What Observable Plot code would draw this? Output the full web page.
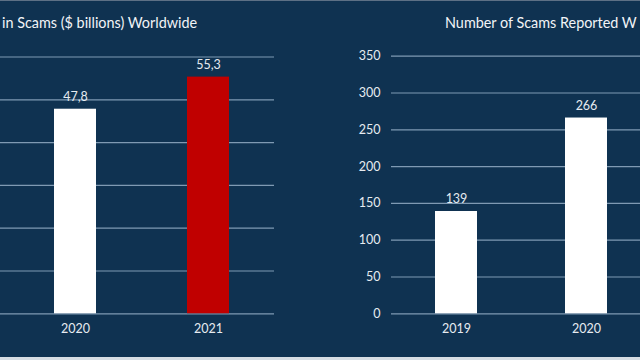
<!DOCTYPE html>
<html>
<head>
<meta charset="utf-8">
<script src="https://cdn.jsdelivr.net/npm/d3@7"></script>
<script src="https://cdn.jsdelivr.net/npm/@observablehq/plot@0.6"></script>
<style>
  html, body { margin: 0; padding: 0; background: #d6dde4; }
  #wrap { position: relative; width: 640px; height: 360px; overflow: hidden; background: #d6dde4; font-family: Lato, "Open Sans", sans-serif; }
  #panel { position: absolute; left: 0; top: 0; width: 640px; height: 357px; background: #0f3251; border-top: 1px solid #5d7085; box-sizing: border-box; }
  .title { position: absolute; top: 14px; color: #f2f4f7; font-size: 14.4px; white-space: nowrap; }
  .chart { position: absolute; top: 0; }
</style>
</head>
<body>
<div id="wrap">
  <div id="panel"></div>
  <div class="title" id="t1" style="left:2px;"></div>
  <div class="title" id="t2" style="left:445px;"></div>
  <div class="chart" id="c1" style="left:0px;"></div>
  <div class="chart" id="c2" style="left:320px;"></div>
</div>
<script>
// ---- data ----
const lossTitle = "in Scams ($ billions) Worldwide";
const lossYears = ["2020", "2021"];
const lossValues = [47.8, 55.3];
const lossLabels = ["47,8", "55,3"];
const lossGridTicks = [0, 10, 20, 30, 40, 50, 60];

const reportTitle = "Number of Scams Reported W";
const reportYears = ["2019", "2020"];
const reportValues = [139, 266];
const reportLabels = ["139", "266"];
const reportTicks = [0, 50, 100, 150, 200, 250, 300, 350];

// ---- styles ----
const gridColor = "#7f9ab3";
const textColor = "#e6ebf0";
const white = "#ffffff";
const red = "#c00000";
const fs = 12.5;

document.getElementById("t1").textContent = lossTitle;
document.getElementById("t2").textContent = reportTitle;

const lossData = lossYears.map((y, i) => ({year: y, value: lossValues[i], label: lossLabels[i]}));
const reportData = reportYears.map((y, i) => ({year: y, value: reportValues[i], label: reportLabels[i]}));

const chart1 = Plot.plot({
  width: 320, height: 360,
  marginLeft: 0, marginRight: 46, marginTop: 0, marginBottom: 46.7,
  style: {background: "transparent", color: textColor, fontFamily: "Lato, sans-serif", fontSize: "12px"},
  x: {domain: lossYears, range: [8.6, 274.7], paddingInner: 0.685, paddingOuter: 0.3425, align: 0.5, label: null, axis: null},
  y: {domain: [0, 60], range: [313.3, 56.5], label: null, axis: null},
  marks: [
    Plot.ruleY(lossGridTicks, {stroke: gridColor, strokeWidth: 1.2}),
    Plot.barY(lossData, {x: "year", y: "value", fill: d => d.year === "2021" ? red : white}),
    Plot.text(lossData, {x: "year", y: "value", text: "label", dy: -12, fill: textColor, fontSize: fs}),
    Plot.axisX({anchor: "bottom", tickSize: 0, tickPadding: 10, fill: textColor, fontSize: fs, label: null})
  ]
});
document.getElementById("c1").appendChild(chart1);

const chart2 = Plot.plot({
  width: 320, height: 360,
  marginLeft: 71, marginRight: 0, marginTop: 0, marginBottom: 46.7,
  style: {background: "transparent", color: textColor, fontFamily: "Lato, sans-serif", fontSize: "12px"},
  x: {domain: reportYears, range: [70.5, 331], paddingInner: 0.678, paddingOuter: 0.339, align: 0.5, label: null},
  y: {domain: [0, 350], range: [313.3, 55.7], label: null},
  marks: [
    Plot.ruleY(reportTicks, {stroke: gridColor, strokeWidth: 1.2}),
    Plot.barY(reportData, {x: "year", y: "value", fill: white}),
    Plot.text(reportData, {x: "year", y: "value", text: "label", dy: -12, fill: textColor, fontSize: fs}),
    Plot.axisY(reportTicks, {tickSize: 0, tickPadding: 11, fill: textColor, fontSize: fs, label: null}),
    Plot.axisX({anchor: "bottom", tickSize: 0, tickPadding: 10, fill: textColor, fontSize: fs, label: null})
  ]
});
document.getElementById("c2").appendChild(chart2);
</script>
</body>
</html>
